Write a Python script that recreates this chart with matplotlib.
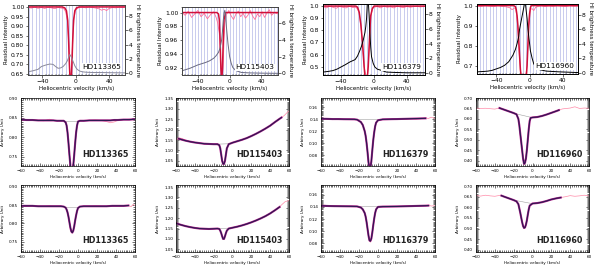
import matplotlib
matplotlib.use("Agg")
import matplotlib.pyplot as plt
import numpy as np
from matplotlib.ticker import MultipleLocator, AutoMinorLocator, FormatStrFormatter

nan = np.nan

# ---------------- top row: residual intensity + HI brightness temperature ----------------
names = ["HD113365", "HD115403", "HD116379", "HD116960"]

# HD113365
v_mod_1 = [-57, -16, -13, -11, -9.5, -8.5, -7.5, -6.5, -5.5, -4.5, -3.5, -2.5, -1, 1, 4, 59]
r_mod_1 = [1.0, 1.0, 0.995, 0.98, 0.93, 0.83, 0.70, 0.60, 0.60, 0.70, 0.83, 0.93, 0.98, 0.995, 1.0, 1.0]
v_obs_1 = [-57, -53, -49, -45, -41, -37, -33, -29, -25, -21, -17, -14, -12, -10, -8, -7, -6, -5, -4, -2, 0,
           4, 8, 12, 16, 20, 24, 28, 31, 34, 37, 40, 44, 48, 52, 56, 59]
r_obs_1 = [0.998, 0.994, 0.999, 0.993, 0.997, 0.992, 0.998, 0.995, 0.991, 0.997, 0.994, 0.99, 0.975, 0.93, 0.80,
           0.66, 0.62, 0.66, 0.78, 0.94, 0.985, 0.997, 0.999, 0.995, 1.0, 0.997, 0.994, 0.99, 0.983, 0.988,
           0.981, 0.992, 0.997, 0.995, 0.999, 0.997, 1.0]
v_hi_1 = [-57, -51, -45, -41, -36, -31, -27, -24, -21, -18, -15, -12, -10, -8, -7, -5, -3, -1, 1, 3, 5, 8, 12,
          20, 30, 45, 59]
t_hi_1 = [0.15, 0.3, 0.5, 0.9, 1.1, 1.25, 1.2, 0.9, 0.65, 0.7, 0.9, 1.3, 1.7, 2.3, 2.6, 2.2, 1.6, 1.0, 0.6, 0.4,
          0.25, 0.15, 0.1, 0.05, 0.05, 0.02, 0.0]

# HD115403
v_mod_2 = [-60, -16, -14, -13, -12, -11, -10, -9, -8, -7, -5, 61]
r_mod_2 = [1.0, 1.0, 0.998, 0.99, 0.96, 0.92, 0.90, 0.92, 0.96, 0.99, 1.0, 1.0]
v_obs_2 = [-60, -56, -52, -48, -44, -40, -36, -32, -28, -24, -20, -17, -15, -13, -12, -11, -10, -9, -8, -7, -6,
           -4, -1, 2, 5, 8, 11, 14, 17, 20, 23, 26, 29, 32, 35, 38, 41, 44, 47, 50, 53, 56, 61]
r_obs_2 = [1.0, 0.996, 1.002, 0.993, 0.998, 1.003, 0.994, 0.999, 0.991, 0.997, 1.001, 0.993, 0.985, 0.97, 0.95,
           0.925, 0.905, 0.905, 0.93, 0.96, 0.985, 0.997, 1.003, 0.995, 0.99, 0.998, 1.002, 0.994, 0.999, 0.992,
           0.996, 1.003, 0.995, 0.99, 0.998, 0.994, 1.001, 0.993, 0.999, 1.004, 0.996, 1.0, 0.998]
v_hi_2 = [-60, -50, -40, -30, -25, -20, -17, -14, -12, -10, -9, -8, -7, -6, -5, -4, -2, 0, 2, 4, 7, 10, 15, 25,
          40, 61]
t_hi_2 = [0.3, 0.6, 1.0, 1.3, 1.5, 1.8, 2.1, 2.5, 3.0, 4.0, 5.0, 6.3, 7.2, 7.5, 6.8, 5.5, 3.5, 2.0, 1.2, 0.7,
          0.4, 0.25, 0.1, 0.05, 0.02, 0.0]

# HD116379
v_mod_3 = [-62, -22, -20, -18, -16, -14, -13, -12, -11, -8, -7, -6, -5, -4, -2, 0, 62]
r_mod_3 = [1.0, 1.0, 0.99, 0.95, 0.85, 0.70, 0.60, 0.50, 0.42, 0.42, 0.50, 0.65, 0.80, 0.92, 0.98, 1.0, 1.0]
v_obs_3 = [-62, -58, -54, -50, -46, -42, -38, -34, -30, -26, -22, -20, -18, -16, -14, -12, -10, -8, -6, -4, -2,
           0, 4, 8, 12, 16, 20, 24, 28, 32, 36, 40, 44, 48, 52, 56, 62]
r_obs_3 = [0.995, 0.985, 0.998, 0.99, 0.982, 0.996, 0.99, 0.985, 0.998, 0.988, 0.99, 0.975, 0.94, 0.84, 0.69,
           0.50, 0.43, 0.42, 0.64, 0.91, 0.975, 0.99, 0.996, 0.985, 0.998, 0.99, 0.994, 0.985, 0.998, 0.992,
           0.987, 0.997, 0.99, 0.995, 0.998, 0.993, 0.997]
v_hi_3 = [-62, -55, -50, -45, -40, -35, -29, -23, -20, -17, -15, -13, -11, -10, -9, -8, -7, -6, -5, -4, -3, -1,
          1, 4, 7, 10, 15, 25, 40, 62]
t_hi_3 = [0.1, 0.2, 0.3, 0.5, 0.8, 1.1, 1.5, 1.8, 2.3, 3.1, 3.7, 4.5, 5.5, 6.3, 7.5, 9.8, 9.8, 8.0, 5.5, 3.5,
          2.2, 1.3, 0.8, 0.5, 0.4, 0.3, 0.1, 0.05, 0.0, 0.0]

# HD116960
v_mod_4 = [-63, -19, -17, -16, -15, -14, -13, -12, -11, -10, -4, -3, -2, -1, 0, 1, 2, 4, 58]
r_mod_4 = [1.0, 1.0, 0.995, 0.98, 0.95, 0.90, 0.83, 0.75, 0.68, 0.64, 0.64, 0.70, 0.80, 0.90, 0.96, 0.99, 1.0,
           1.0, 1.0]
v_obs_4 = [-63, -58, -53, -48, -43, -38, -33, -28, -24, -21, -19, -17, -15, -13, -11, -9, -7, -5, -3, -1, 1, 3,
           5, 7, 10, 14, 18, 23, 28, 33, 38, 43, 48, 53, 58]
r_obs_4 = [0.998, 0.996, 0.999, 0.997, 0.995, 0.999, 0.996, 0.994, 0.99, 0.98, 0.985, 0.99, 0.94, 0.80, 0.67,
           0.64, 0.66, 0.64, 0.70, 0.90, 0.98, 0.985, 0.975, 0.99, 0.996, 0.999, 0.995, 0.998, 0.996, 0.999,
           0.997, 0.995, 0.999, 0.997, 0.998]
v_hi_4 = [-63, -55, -50, -45, -40, -35, -30, -25, -20, -17, -15, -13, -12, -10, -8, -7, -6, -5, -4, -3, -2, -1,
          0, 1, 3, 5, 8, 12, 20, 35, 58]
t_hi_4 = [0.1, 0.15, 0.2, 0.3, 0.5, 0.7, 1.0, 1.5, 2.4, 3.2, 4.0, 5.0, 6.0, 7.2, 8.4, 9.0, 9.6, 9.6, 8.5, 7.5,
          6.0, 5.0, 4.0, 3.0, 2.0, 1.2, 0.7, 0.4, 0.2, 0.1, 0.0]

# ---------------- rows 2 and 3: fitted spectra ----------------
# row 2
vel_a1 = [-60, -54, -48, -42, -36, -30, -26, -22, -18, -15, -13, -12, -11, -10, -9, -8, -7, -6, -5, -4, -3, -2,
          -1, 0, 2, 6, 12, 18, 24, 30, 34, 38, 42, 48, 54, 60]
obs_a1 = [0.845, 0.844, 0.845, 0.843, 0.842, 0.846, 0.843, 0.842, 0.843, 0.842, 0.838, 0.830, 0.812, 0.785,
          0.755, 0.728, 0.70, 0.70, 0.728, 0.755, 0.785, 0.812, 0.830, 0.840, 0.843, 0.842, 0.843, 0.844, 0.843,
          0.840, 0.837, 0.839, 0.843, 0.845, 0.846, 0.845]
fit_a1 = [0.845, 0.844, 0.844, 0.843, 0.843, 0.843, 0.843, 0.842, 0.842, 0.842, 0.838, 0.830, 0.812, 0.785,
          0.755, 0.728, 0.70, 0.70, 0.728, 0.755, 0.785, 0.812, 0.830, 0.840, 0.842, 0.842, 0.843, 0.843, 0.843,
          0.843, 0.843, 0.844, 0.844, 0.845, 0.845, 0.846]
cv_a1, cy_a1 = [-15, 0], [0.842, 0.842]

vel_b1 = [-60, -57, -54, -50, -45, -40, -35, -30, -25, -20, -16, -14, -13, -12, -11, -10, -9, -8, -7, -6, -4, 0,
          5, 10, 15, 20, 25, 30, 35, 40, 45, 50, 52, 55, 58, 60]
obs_b1 = [1.150, 1.160, 1.158, 1.150, 1.143, 1.138, 1.135, 1.132, 1.130, 1.130, 1.130, 1.125, 1.11, 1.08, 1.05,
          1.035, 1.035, 1.05, 1.08, 1.11, 1.13, 1.138, 1.145, 1.152, 1.160, 1.170, 1.180, 1.192, 1.205, 1.218,
          1.235, 1.250, 1.258, 1.268, 1.282, 1.290]
fit_b1 = [nan, 1.156, 1.152, 1.147, 1.142, 1.138, 1.135, 1.132, 1.131, 1.130, 1.130, 1.125, 1.11, 1.08, 1.05,
          1.035, 1.035, 1.05, 1.08, 1.11, 1.13, 1.137, 1.144, 1.151, 1.159, 1.169, 1.180, 1.192, 1.205, 1.219,
          1.236, 1.252, 1.258, nan, nan, nan]
cv_b1, cy_b1 = [-16, -4], [1.130, 1.132]

vel_c1 = [-60, -54, -48, -42, -36, -30, -25, -22, -18, -16, -14, -13, -12, -11, -10, -9, -8, -7, -6, -5, -4, -3,
          -2, 0, 5, 10, 15, 20, 25, 30, 35, 40, 45, 50, 53, 56, 60]
obs_c1 = [0.141, 0.140, 0.139, 0.141, 0.139, 0.140, 0.1395, 0.139, 0.135, 0.130, 0.120, 0.112, 0.100, 0.085,
          0.068, 0.058, 0.058, 0.070, 0.088, 0.105, 0.118, 0.128, 0.134, 0.138, 0.1395, 0.139, 0.1395, 0.140,
          0.1405, 0.140, 0.141, 0.140, 0.1405, 0.142, 0.141, 0.143, 0.141]
fit_c1 = [0.1405, 0.1403, 0.140, 0.140, 0.1398, 0.1397, 0.1396, 0.139, 0.135, 0.130, 0.120, 0.112, 0.100, 0.085,
          0.068, 0.058, 0.058, 0.070, 0.088, 0.105, 0.118, 0.128, 0.134, 0.138, 0.1395, 0.1397, 0.1399, 0.140,
          0.1402, 0.1404, 0.1406, 0.1408, 0.141, 0.1412, nan, nan, nan]
cv_c1, cy_c1 = [-22, 0], [0.139, 0.1393]

vel_d1 = [-60, -55, -50, -45, -40, -35, -30, -25, -20, -17, -15, -14, -13, -12, -11, -10, -9, -8, -7, -6, -5, -4,
          -3, -2, 0, 5, 10, 15, 20, 25, 28, 32, 36, 40, 45, 50, 55, 60]
obs_d1 = [0.652, 0.650, 0.651, 0.649, 0.647, 0.653, 0.645, 0.637, 0.628, 0.622, 0.60, 0.57, 0.53, 0.49, 0.45,
          0.41, 0.385, 0.39, 0.41, 0.45, 0.50, 0.55, 0.59, 0.605, 0.608, 0.610, 0.615, 0.622, 0.630, 0.638,
          0.643, 0.648, 0.650, 0.652, 0.658, 0.650, 0.652, 0.651]
fit_d1 = [nan, nan, nan, nan, nan, 0.652, 0.644, 0.636, 0.628, 0.622, 0.60, 0.57, 0.53, 0.49, 0.45, 0.41, 0.385,
          0.39, 0.41, 0.45, 0.50, 0.55, 0.59, 0.605, 0.607, 0.609, 0.614, 0.621, 0.629, 0.637, 0.642, nan, nan,
          nan, nan, nan, nan, nan]
cv_d1, cy_d1 = [-20, -1], [0.627, 0.607]

# row 3
vel_a2 = [-60, -54, -48, -42, -36, -30, -24, -18, -15, -13, -12, -11, -10, -9, -8, -7, -6, -5, -4, -3, -2, -1, 0,
          2, 6, 12, 18, 24, 30, 36, 42, 48, 53, 56, 58, 60]
obs_a2 = [0.848, 0.847, 0.848, 0.847, 0.846, 0.848, 0.847, 0.847, 0.846, 0.843, 0.838, 0.830, 0.818, 0.803,
          0.788, 0.778, 0.775, 0.780, 0.792, 0.808, 0.822, 0.834, 0.842, 0.846, 0.847, 0.847, 0.848, 0.847,
          0.846, 0.847, 0.848, 0.848, 0.849, 0.846, 0.852, 0.849]
fit_a2 = [0.848, 0.848, 0.848, 0.847, 0.847, 0.847, 0.847, 0.847, 0.846, 0.843, 0.838, 0.830, 0.818, 0.803,
          0.788, 0.778, 0.775, 0.780, 0.792, 0.808, 0.822, 0.834, 0.842, 0.846, 0.847, 0.847, 0.847, 0.847,
          0.847, 0.848, 0.848, 0.848, 0.849, nan, nan, nan]
cv_a2, cy_a2 = [-15, 1], [0.846, 0.846]

vel_b2 = [-60, -57, -54, -50, -45, -40, -35, -30, -25, -20, -16, -14, -13, -12, -11, -10, -9, -8, -7, -6, -4, 0,
          5, 10, 15, 20, 25, 30, 35, 40, 45, 50, 53, 56, 60]
obs_b2 = [1.180, 1.172, 1.168, 1.162, 1.157, 1.153, 1.150, 1.149, 1.148, 1.149, 1.150, 1.148, 1.140, 1.128,
          1.113, 1.100, 1.100, 1.113, 1.128, 1.140, 1.150, 1.155, 1.160, 1.165, 1.172, 1.180, 1.188, 1.198,
          1.210, 1.222, 1.238, 1.255, 1.268, 1.280, 1.285]
fit_b2 = [1.176, 1.171, 1.167, 1.162, 1.157, 1.153, 1.150, 1.149, 1.148, 1.149, 1.150, 1.148, 1.140, 1.128,
          1.113, 1.100, 1.100, 1.113, 1.128, 1.140, 1.150, 1.154, 1.159, 1.165, 1.172, 1.180, 1.189, 1.199,
          1.210, 1.223, 1.238, 1.254, nan, nan, nan]
cv_b2, cy_b2 = [-16, -3], [1.150, 1.152]

vel_c2 = [-60, -56, -52, -46, -40, -34, -28, -22, -18, -16, -14, -13, -12, -11, -10, -9, -8, -7, -6, -5, -4, -3,
          -2, 0, 5, 10, 15, 20, 25, 30, 35, 40, 45, 50, 53, 56, 60]
obs_c2 = [0.142, 0.143, 0.1415, 0.142, 0.1412, 0.141, 0.1412, 0.141, 0.139, 0.136, 0.130, 0.124, 0.115, 0.104,
          0.093, 0.085, 0.082, 0.088, 0.098, 0.110, 0.121, 0.130, 0.136, 0.140, 0.141, 0.1405, 0.141, 0.1408,
          0.141, 0.1412, 0.1415, 0.142, 0.1418, 0.142, 0.143, 0.1415, 0.142]
fit_c2 = [0.1418, 0.1417, 0.1415, 0.1413, 0.1412, 0.1411, 0.141, 0.1408, 0.139, 0.136, 0.130, 0.124, 0.115,
          0.104, 0.093, 0.085, 0.084, 0.088, 0.098, 0.110, 0.121, 0.130, 0.136, 0.140, 0.1405, 0.1406, 0.1407,
          0.1408, 0.141, 0.1412, 0.1414, 0.1416, 0.1418, 0.142, 0.1422, nan, nan]
cv_c2, cy_c2 = [-22, 0], [0.1408, 0.1405]

vel_d2 = [-60, -55, -50, -45, -40, -35, -33, -30, -25, -20, -17, -15, -14, -13, -12, -11, -10, -9, -8, -7, -6,
          -5, -4, -3, 0, 5, 10, 15, 20, 25, 30, 35, 40, 45, 50, 55, 60]
obs_d2 = [0.655, 0.653, 0.657, 0.654, 0.652, 0.656, 0.655, 0.650, 0.642, 0.634, 0.628, 0.615, 0.595, 0.575,
          0.552, 0.530, 0.512, 0.503, 0.505, 0.518, 0.538, 0.565, 0.590, 0.608, 0.618, 0.620, 0.624, 0.630,
          0.637, 0.643, 0.646, 0.650, 0.655, 0.652, 0.654, 0.657, 0.653]
fit_d2 = [nan, nan, nan, nan, nan, nan, 0.655, 0.650, 0.642, 0.634, 0.628, 0.615, 0.595, 0.575, 0.552, 0.530,
          0.512, 0.503, 0.505, 0.518, 0.538, 0.565, 0.590, 0.608, 0.618, 0.620, 0.624, 0.630, 0.637, 0.642,
          0.646, nan, nan, nan, nan, nan, nan]
cv_d2, cy_d2 = [-20, -1], [0.634, 0.618]

fig = plt.figure(figsize=(6, 2.68), dpi=100)
W, H = 600.0, 268.0


def rect(x0, x1, y0, y1):
    return [x0 / W, 1 - y1 / H, (x1 - x0) / W, (y1 - y0) / H]


def top_panel(r, name, xlim, ylim, yticks, yfmt, tlim, tticks, vm, rm, vo, ro, vh, th, hi_color, frame):
    ax = fig.add_axes(r)
    ax.set_xlim(xlim)
    ax.set_ylim(ylim)
    ax.set_xticks([-40, 0, 40])
    ax.xaxis.set_minor_locator(MultipleLocator(4))
    ax.grid(which="both", axis="x", color="#b4b8e8", lw=0.5)
    ax.set_axisbelow(True)
    ax.set_yticks(yticks)
    ax.yaxis.set_major_formatter(FormatStrFormatter(yfmt))
    ax.plot(vo, ro, color="#ff6f9c", lw=0.6)
    ax.plot(vm, rm, color="#d0103a", lw=1.1)
    ax.tick_params(labelsize=4.3, length=1.8, width=0.4, pad=1)
    ax.tick_params(which="minor", length=1, width=0.3, top=True, direction="in")
    ax.set_ylabel("Residual Intensity", fontsize=4, labelpad=1.5)
    ax.set_xlabel("Heliocentric velocity (km/s)", fontsize=4, labelpad=1.5)
    ax2 = ax.twinx()
    ax2.set_ylim(tlim)
    ax2.set_yticks(tticks)
    ax2.plot(vh, th, color=hi_color, lw=0.7)
    ax2.tick_params(labelsize=4.3, length=1.8, width=0.4, pad=1)
    ax2.set_ylabel("HI brightness temperature", fontsize=4, labelpad=1.5, rotation=270, va="bottom")
    for a in (ax, ax2):
        for s in a.spines.values():
            s.set_color(frame)
            s.set_linewidth(0.6)
    ax2.text(0.96, 0.07, name, transform=ax.transAxes, ha="right", va="bottom", fontsize=5.2,
             bbox=dict(facecolor="white", edgecolor="none", pad=0.5))


top_panel(rect(28, 125, 5, 75), names[0], (-57, 59), (0.645, 1.01), [0.65, 0.70, 0.75, 0.80, 0.85, 0.90, 0.95, 1.00],
          "%.2f", (-0.3, 9.6), [0, 2, 4, 6, 8], v_mod_1, r_mod_1, v_obs_1, r_obs_1, v_hi_1, t_hi_1, "#8a8a9a", "#444444")
top_panel(rect(182, 278, 7, 75), names[1], (-60, 61), (0.910, 1.008), [0.92, 0.94, 0.96, 0.98, 1.00],
          "%.2f", (-0.2, 7.9), [0, 2, 4, 6], v_mod_2, r_mod_2, v_obs_2, r_obs_2, v_hi_2, t_hi_2, "#6a6a80", "#444444")
top_panel(rect(323, 425, 4, 75), names[2], (-62, 62), (0.431, 1.017), [0.5, 0.6, 0.7, 0.8, 0.9, 1.0],
          "%.1f", (-0.3, 9.4), [0, 2, 4, 6, 8], v_mod_3, r_mod_3, v_obs_3, r_obs_3, v_hi_3, t_hi_3, "black", "black")
top_panel(rect(477, 578, 4, 74), names[3], (-63, 58), (0.658, 1.008), [0.7, 0.8, 0.9, 1.0],
          "%.1f", (-0.2, 9.5), [0, 2, 4, 6, 8], v_mod_4, r_mod_4, v_obs_4, r_obs_4, v_hi_4, t_hi_4, "black", "black")


def low_panel(r, name, vel, obs, fit, cv, cy, ylim, yticks):
    ax = fig.add_axes(r)
    ax.set_xlim(-60, 60)
    ax.set_ylim(ylim)
    ax.set_xticks([-60, -40, -20, 0, 20, 40, 60])
    ax.set_yticks(yticks)
    ax.yaxis.set_major_formatter(FormatStrFormatter("%.2f"))
    ax.xaxis.set_minor_locator(AutoMinorLocator(10))
    ax.yaxis.set_minor_locator(AutoMinorLocator(10))
    ax.tick_params(which="both", direction="in", top=True, right=True, width=0.4, labelsize=3, pad=2)
    ax.tick_params(which="major", length=2.5)
    ax.tick_params(which="minor", length=1.2)
    for s in ax.spines.values():
        s.set_linewidth(0.5)
    ax.plot(vel, obs, color="#ff8aa8", lw=0.5)
    ax.plot(cv, cy, color="#a0a0a0", lw=0.4)
    ax.plot(vel, fit, color="#b0208a", lw=1.5)
    ax.plot(vel, fit, color="#2a1850", lw=0.8)
    ax.set_ylabel("Arbitrary Unit", fontsize=3, labelpad=3)
    ax.set_xlabel("Heliocentric velocity (km/s)", fontsize=3, labelpad=1.5)
    ax.text(0.94, 0.1, name, transform=ax.transAxes, ha="right", va="bottom", fontsize=5.8, fontweight="bold",
            color="#222222")


xs = [(21, 135), (176, 289), (321, 435), (476, 589)]
row2 = [(vel_a1, obs_a1, fit_a1, cv_a1, cy_a1, (0.727, 0.900), [0.75, 0.80, 0.85, 0.90]),
        (vel_b1, obs_b1, fit_b1, cv_b1, cy_b1, (1.025, 1.352), [1.05, 1.10, 1.15, 1.20, 1.25, 1.30, 1.35]),
        (vel_c1, obs_c1, fit_c1, cv_c1, cy_c1, (0.062, 0.175), [0.08, 0.10, 0.12, 0.14, 0.16]),
        (vel_d1, obs_d1, fit_d1, cv_d1, cy_d1, (0.375, 0.700), [0.40, 0.45, 0.50, 0.55, 0.60, 0.65, 0.70])]
row3 = [(vel_a2, obs_a2, fit_a2, cv_a2, cy_a2, (0.722, 0.905), [0.75, 0.80, 0.85, 0.90]),
        (vel_b2, obs_b2, fit_b2, cv_b2, cy_b2, (1.037, 1.360), [1.05, 1.10, 1.15, 1.20, 1.25, 1.30, 1.35]),
        (vel_c2, obs_c2, fit_c2, cv_c2, cy_c2, (0.066, 0.176), [0.08, 0.10, 0.12, 0.14, 0.16]),
        (vel_d2, obs_d2, fit_d2, cv_d2, cy_d2, (0.390, 0.705), [0.40, 0.45, 0.50, 0.55, 0.60, 0.65, 0.70])]

for i in range(4):
    low_panel(rect(xs[i][0], xs[i][1], 98, 166), names[i], *row2[i])
    low_panel(rect(xs[i][0], xs[i][1], 185, 252), names[i], *row3[i])

fig.savefig("out.png", dpi=100)
